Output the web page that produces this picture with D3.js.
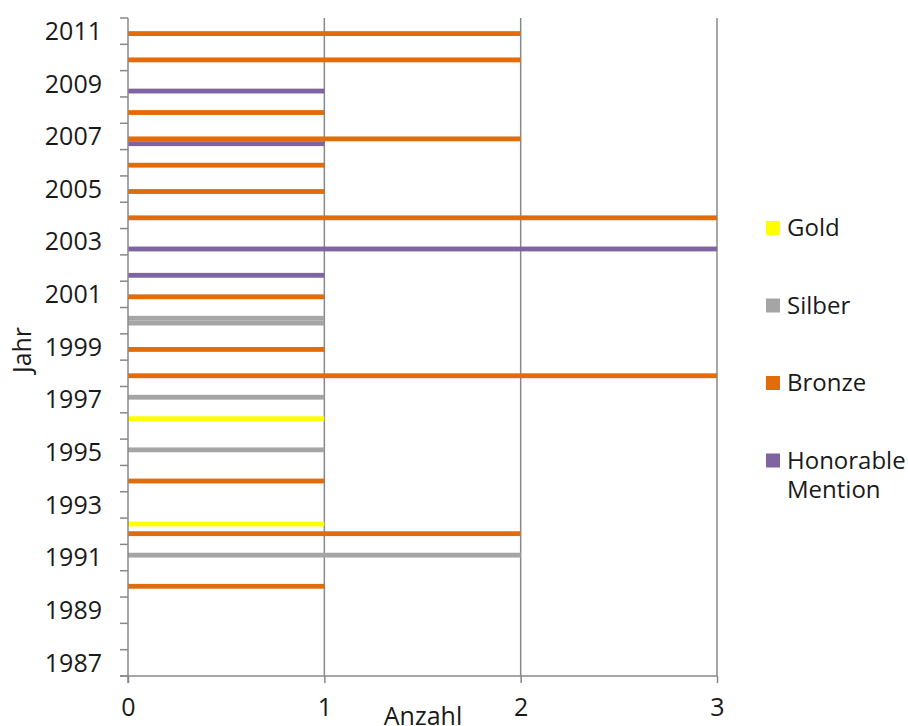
<!DOCTYPE html>
<html>
<head>
<meta charset="utf-8">
<script src="https://cdn.jsdelivr.net/npm/d3@7/dist/d3.min.js"></script>
<style>
  html, body { margin: 0; padding: 0; background: #fff; }
  svg { display: block; font-family: "Open Sans", "Noto Sans", sans-serif; }
</style>
</head>
<body>
<svg id="chart" width="908" height="726"></svg>
<script>
// Years on the category axis (top to bottom: newest first)
const years = d3.range(2011, 1986, -1);

// Medal series, in the order they appear within each year group (top to bottom)
const seriesNames = ["Gold", "Silber", "Bronze", "Honorable Mention"];

// Counts per year for each series
const gold = { 1996: 1, 1992: 1 };
const silber = { 2000: 1, 1997: 1, 1995: 1, 1991: 2 };
const bronze = { 2011: 2, 2010: 2, 2008: 1, 2007: 2, 2006: 1, 2005: 1, 2004: 3,
                 2001: 1, 2000: 1, 1999: 1, 1998: 3, 1994: 1, 1992: 2, 1990: 1 };
const honorable = { 2009: 1, 2007: 1, 2003: 3, 2002: 1 };

const xTicks = [0, 1, 2, 3];

const seriesValues = [gold, silber, bronze, honorable];
const colors = ["#FFFF00", "#A5A5A5", "#E36C0A", "#8064A2"];
// The 2000 bronze bar is shown in the silver colour
const colorOverrides = [{ series: "Bronze", year: 2000, color: "#A5A5A5" }];

const svg = d3.select("#chart");
const plotLeft = 128, plotRight = 717, plotTop = 18, plotBottom = 676;

const x = d3.scaleLinear().domain([0, 3]).range([plotLeft, plotRight]);
const y = d3.scaleBand().domain(years).range([plotTop, plotBottom]).paddingInner(0).paddingOuter(0);
const ySeries = d3.scaleBand().domain(seriesNames).range([0, y.bandwidth()])
  .paddingInner(0).paddingOuter(0.72);
const color = d3.scaleOrdinal().domain(seriesNames).range(colors);

const axisColor = "#888888";
const textColor = "#1a1a1a";

// Vertical gridlines
svg.append("g").selectAll("line")
  .data(xTicks.filter(d => d > 0))
  .join("line")
  .attr("x1", d => x(d)).attr("x2", d => x(d))
  .attr("y1", plotTop).attr("y2", plotBottom)
  .attr("stroke", axisColor).attr("stroke-width", 1.5);

// Bars
const rows = [];
seriesNames.forEach((s, i) => {
  years.forEach(yr => {
    const v = seriesValues[i][yr];
    if (v) rows.push({ series: s, year: yr, value: v });
  });
});

svg.append("g").selectAll("rect")
  .data(rows)
  .join("rect")
  .attr("x", x(0))
  .attr("y", d => y(d.year) + ySeries(d.series))
  .attr("width", d => x(d.value) - x(0))
  .attr("height", ySeries.bandwidth())
  .attr("fill", d => {
    const o = colorOverrides.find(c => c.series === d.series && c.year === d.year);
    return o ? o.color : color(d.series);
  });

// Y axis: line, boundary ticks and labels for every other year
const yAxis = svg.append("g");
yAxis.append("line")
  .attr("x1", plotLeft).attr("x2", plotLeft).attr("y1", plotTop).attr("y2", plotBottom + 7)
  .attr("stroke", axisColor).attr("stroke-width", 1.5);
const boundaries = years.map(yr => y(yr)).concat([plotBottom]);
yAxis.selectAll("line.tick")
  .data(boundaries)
  .join("line").attr("class", "tick")
  .attr("x1", plotLeft - 8).attr("x2", plotLeft)
  .attr("y1", d => d).attr("y2", d => d)
  .attr("stroke", axisColor).attr("stroke-width", 1.5);
yAxis.selectAll("text")
  .data(years.filter(yr => yr % 2 === 1))
  .join("text")
  .attr("x", 102)
  .attr("y", d => y(d) + y.bandwidth() / 2)
  .attr("dy", "0.35em")
  .attr("text-anchor", "end")
  .attr("font-size", 25)
  .attr("fill", textColor)
  .text(d => d);

// X axis
const xAxis = svg.append("g").attr("transform", `translate(0,${plotBottom})`)
  .call(d3.axisBottom(x).tickValues(xTicks).tickFormat(d3.format("d"))
    .tickSize(7).tickPadding(15).tickSizeOuter(0));
xAxis.select(".domain").attr("stroke", axisColor).attr("stroke-width", 1.5)
  .attr("d", `M${plotLeft - 8},0H${plotRight}`);
xAxis.selectAll(".tick line").attr("stroke", axisColor).attr("stroke-width", 1.5);
xAxis.selectAll(".tick text").attr("font-size", 25).attr("fill", textColor)
  .attr("font-family", "'Open Sans', 'Noto Sans', sans-serif");

// Axis titles
svg.append("text")
  .attr("x", 423).attr("y", 725)
  .attr("text-anchor", "middle")
  .attr("font-size", 25).attr("fill", textColor)
  .text("Anzahl");
svg.append("text")
  .attr("transform", "translate(31,350) rotate(-90)")
  .attr("text-anchor", "middle")
  .attr("font-size", 25).attr("fill", textColor)
  .text("Jahr");

// Legend
const legendLabels = [["Gold"], ["Silber"], ["Bronze"], ["Honorable", "Mention"]];
const legend = svg.append("g");
seriesNames.forEach((s, i) => {
  const gy = 228 + i * 77.5;
  legend.append("rect")
    .attr("x", 766).attr("y", gy - 7).attr("width", 14).attr("height", 14)
    .attr("fill", color(s));
  const t = legend.append("text")
    .attr("x", 787).attr("y", gy)
    .attr("font-size", 24).attr("fill", textColor);
  legendLabels[i].forEach((line, j) => {
    t.append("tspan").attr("x", 787).attr("dy", j === 0 ? "0.35em" : "1.2em").text(line);
  });
});
</script>
</body>
</html>
